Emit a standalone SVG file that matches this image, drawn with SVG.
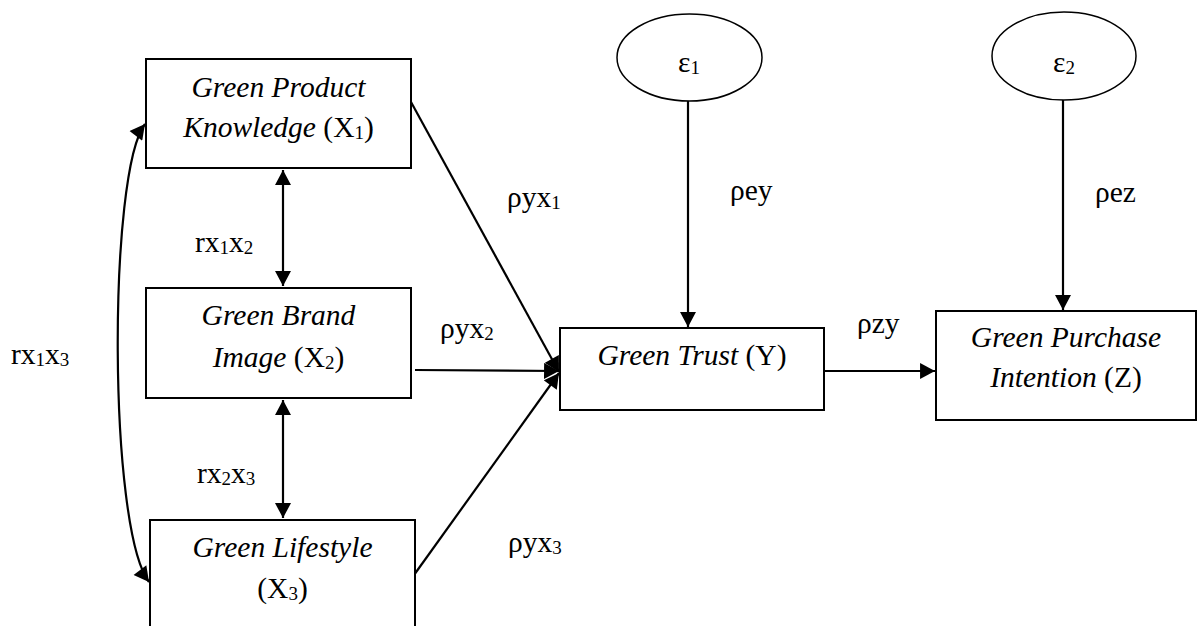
<svg xmlns="http://www.w3.org/2000/svg" width="1198" height="626" viewBox="0 0 1198 626">
<style>
.box{fill:#fff;stroke:#000;stroke-width:2}
.ell{fill:#fff;stroke:#000;stroke-width:1.5}
.t{font-family:"Liberation Serif","Times New Roman",serif;font-size:29.5px;fill:#000}
.c{text-anchor:middle}
.i{font-style:italic}
.s{font-size:19px}
.ln{fill:none;stroke:#000;stroke-width:2.2}
</style>
<defs>
<marker id="ah" markerUnits="userSpaceOnUse" markerWidth="16" markerHeight="16" refX="14" refY="7.5" orient="auto-start-reverse" viewBox="0 0 14 15">
<path d="M0,0 L14,7.5 L0,15 z" fill="#000"/>
</marker>
</defs>
<rect width="1198" height="626" fill="#fff"/>
<g id="connectors">
<path class="ln" d="M283,170 L283,286" marker-start="url(#ah)" marker-end="url(#ah)"/>
<path class="ln" d="M283,400 L283,518" marker-start="url(#ah)" marker-end="url(#ah)"/>
<path class="ln" d="M145,124 C108,172 108,528 149,582" marker-start="url(#ah)" marker-end="url(#ah)"/>
<path class="ln" d="M411,102 L559,372" marker-end="url(#ah)"/>
<path class="ln" d="M415,370 L559,371" marker-end="url(#ah)"/>
<path class="ln" d="M414,575 L559,373" marker-end="url(#ah)"/>
<path class="ln" d="M688,101 L688,327" marker-end="url(#ah)"/>
<path class="ln" d="M1063,100 L1063,310" marker-end="url(#ah)"/>
<path class="ln" d="M825,371 L935,371" marker-end="url(#ah)"/>
<text class="t" x="195" y="252">rx<tspan class="s" dy="2">1</tspan><tspan dy="-2">x</tspan><tspan class="s" dy="2">2</tspan></text>
<text class="t" x="197" y="483">rx<tspan class="s" dy="2">2</tspan><tspan dy="-2">x</tspan><tspan class="s" dy="2">3</tspan></text>
<text class="t" x="11" y="364">rx<tspan class="s" dy="2">1</tspan><tspan dy="-2">x</tspan><tspan class="s" dy="2">3</tspan></text>
<text class="t" x="507" y="207">ρyx<tspan class="s" dy="2">1</tspan></text>
<text class="t" x="440" y="338">ρyx<tspan class="s" dy="2">2</tspan></text>
<text class="t" x="508" y="552">ρyx<tspan class="s" dy="2">3</tspan></text>
<text class="t" x="730" y="200">ρey</text>
<text class="t" x="1095" y="202">ρez</text>
<text class="t" x="857" y="333">ρzy</text>
</g>
<g id="x1">
<rect class="box" x="146" y="59" width="265" height="109"/>
<text class="t c i" x="278.5" y="97">Green Product</text>
<text class="t c" x="278.5" y="137"><tspan class="i">Knowledge</tspan> (X<tspan class="s" dy="2">1</tspan><tspan dy="-2">)</tspan></text>
</g>
<g id="x2">
<rect class="box" x="146" y="288" width="265" height="110"/>
<text class="t c i" x="278.5" y="325">Green Brand</text>
<text class="t c" x="278.5" y="367"><tspan class="i">Image</tspan> (X<tspan class="s" dy="2">2</tspan><tspan dy="-2">)</tspan></text>
</g>
<g id="x3">
<rect class="box" x="150" y="520" width="265" height="130"/>
<text class="t c i" x="282.5" y="557">Green Lifestyle</text>
<text class="t c" x="282.5" y="598">(X<tspan class="s" dy="2">3</tspan><tspan dy="-2">)</tspan></text>
</g>
<g id="y">
<rect class="box" x="560" y="328" width="264" height="82"/>
<text class="t c" x="692" y="365"><tspan class="i">Green Trust</tspan> (Y)</text>
</g>
<g id="z">
<rect class="box" x="936" y="311" width="260" height="109"/>
<text class="t c i" x="1066" y="347">Green Purchase</text>
<text class="t c" x="1066" y="387"><tspan class="i">Intention</tspan> (Z)</text>
</g>
<g id="e1">
<ellipse class="ell" cx="689.5" cy="57.5" rx="72.5" ry="43.5"/>
<text class="t c" x="689" y="72">ε<tspan class="s" dy="2">1</tspan></text>
</g>
<g id="e2">
<ellipse class="ell" cx="1064" cy="56" rx="72" ry="44"/>
<text class="t c" x="1064" y="72">ε<tspan class="s" dy="2">2</tspan></text>
</g>
</svg>
